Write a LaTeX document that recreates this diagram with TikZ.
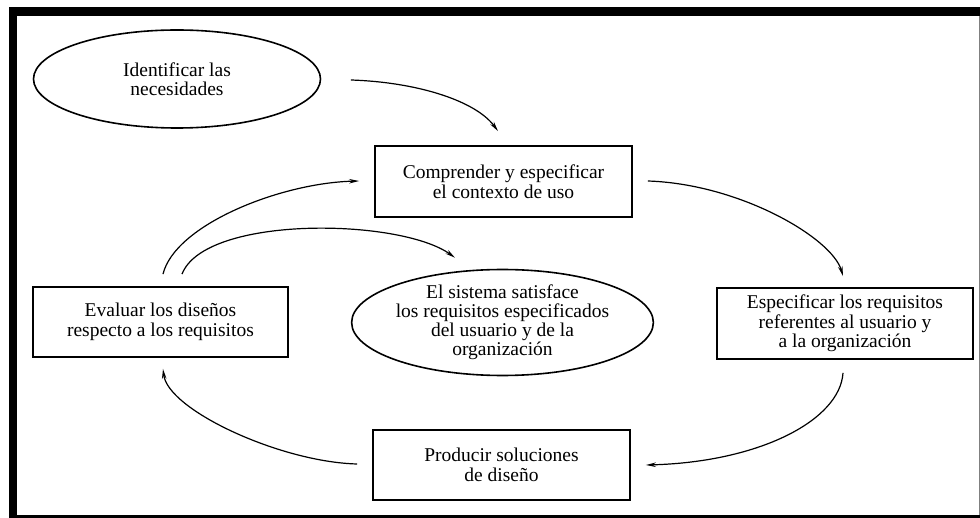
\documentclass[tikz,border=0pt]{standalone}
\usepackage{fontspec}
\setmainfont{Liberation Serif}
\usetikzlibrary{shapes.geometric,arrows.meta,calc}
\tikzset{
  boxnode/.style={draw, line width=1.8pt, rectangle, inner sep=0pt, align=center,
    font=\fontsize{19.5}{19.5}\selectfont},
  ellnode/.style={draw, line width=1.6pt, ellipse, inner sep=0pt, align=center,
    font=\fontsize{19.5}{19}\selectfont},
  arr/.style={line width=1.2pt, -{Stealth[length=10pt,width=4.5pt]}},
}
\begin{document}
\begin{tikzpicture}[x=1pt,y=-1pt]
\useasboundingbox (0,0) rectangle (980,518);
\fill[white] (0,0) rectangle (980,518);
% frame
\fill[black] (9,7) rectangle (980,16);
\fill[black] (9,7) rectangle (17,518);
\fill[black] (9,515) rectangle (980,518);
\draw[gray, line width=1pt] (979.5,16) -- (979.5,515);

% nodes
\node[ellnode, minimum width=287, minimum height=98] (ident) at (177,79)
  {Identificar las\\necesidades};
\node[boxnode, minimum width=257, minimum height=71] (comp) at (503.5,181.5)
  {Comprender y especificar\\el contexto de uso};
\node[boxnode, minimum width=256, minimum height=71] (espec) at (845,323.5)
  {Especificar los requisitos\\referentes al usuario y\\a la organización};
\node[boxnode, minimum width=257, minimum height=70] (prod) at (501.5,465)
  {Producir soluciones\\de diseño};
\node[boxnode, minimum width=255, minimum height=70] (eval) at (160.5,322)
  {Evaluar los diseños\\respecto a los requisitos};
\node[ellnode, minimum width=289, minimum height=101] (sist) at (502.5,322.5)
  {El sistema satisface\\los requisitos especificados\\del usuario y de la\\organización};

% connectors
\draw[arr] ($(ident.east)+(29.5,1)$) .. controls (415,82) and (475,100) .. ($(comp.north)+(-5.5,-14)$);
\draw[arr] ($(comp.east)+(15,-0.5)$) .. controls (740,184) and (832,238) .. ($(espec.north)+(-2,-11)$);
\draw[arr] ($(espec.south)+(-2,13)$) .. controls (840,420) and (760,462) .. ($(prod.east)+(15,0)$);
\draw[arr] ($(prod.west)+(-15,-1)$) .. controls (280,462) and (168,410) .. ($(eval.south)+(2.5,11)$);
\draw[arr] ($(eval.north)+(2.5,-12)$) .. controls (175,225) and (280,183) .. ($(comp.west)+(-15,-0.5)$);
\draw[arr] ($(eval.north)+(21.5,-12)$) .. controls (205,215) and (400,218) .. ($(sist.north)+(-47.5,-11)$);
\end{tikzpicture}
\end{document}
